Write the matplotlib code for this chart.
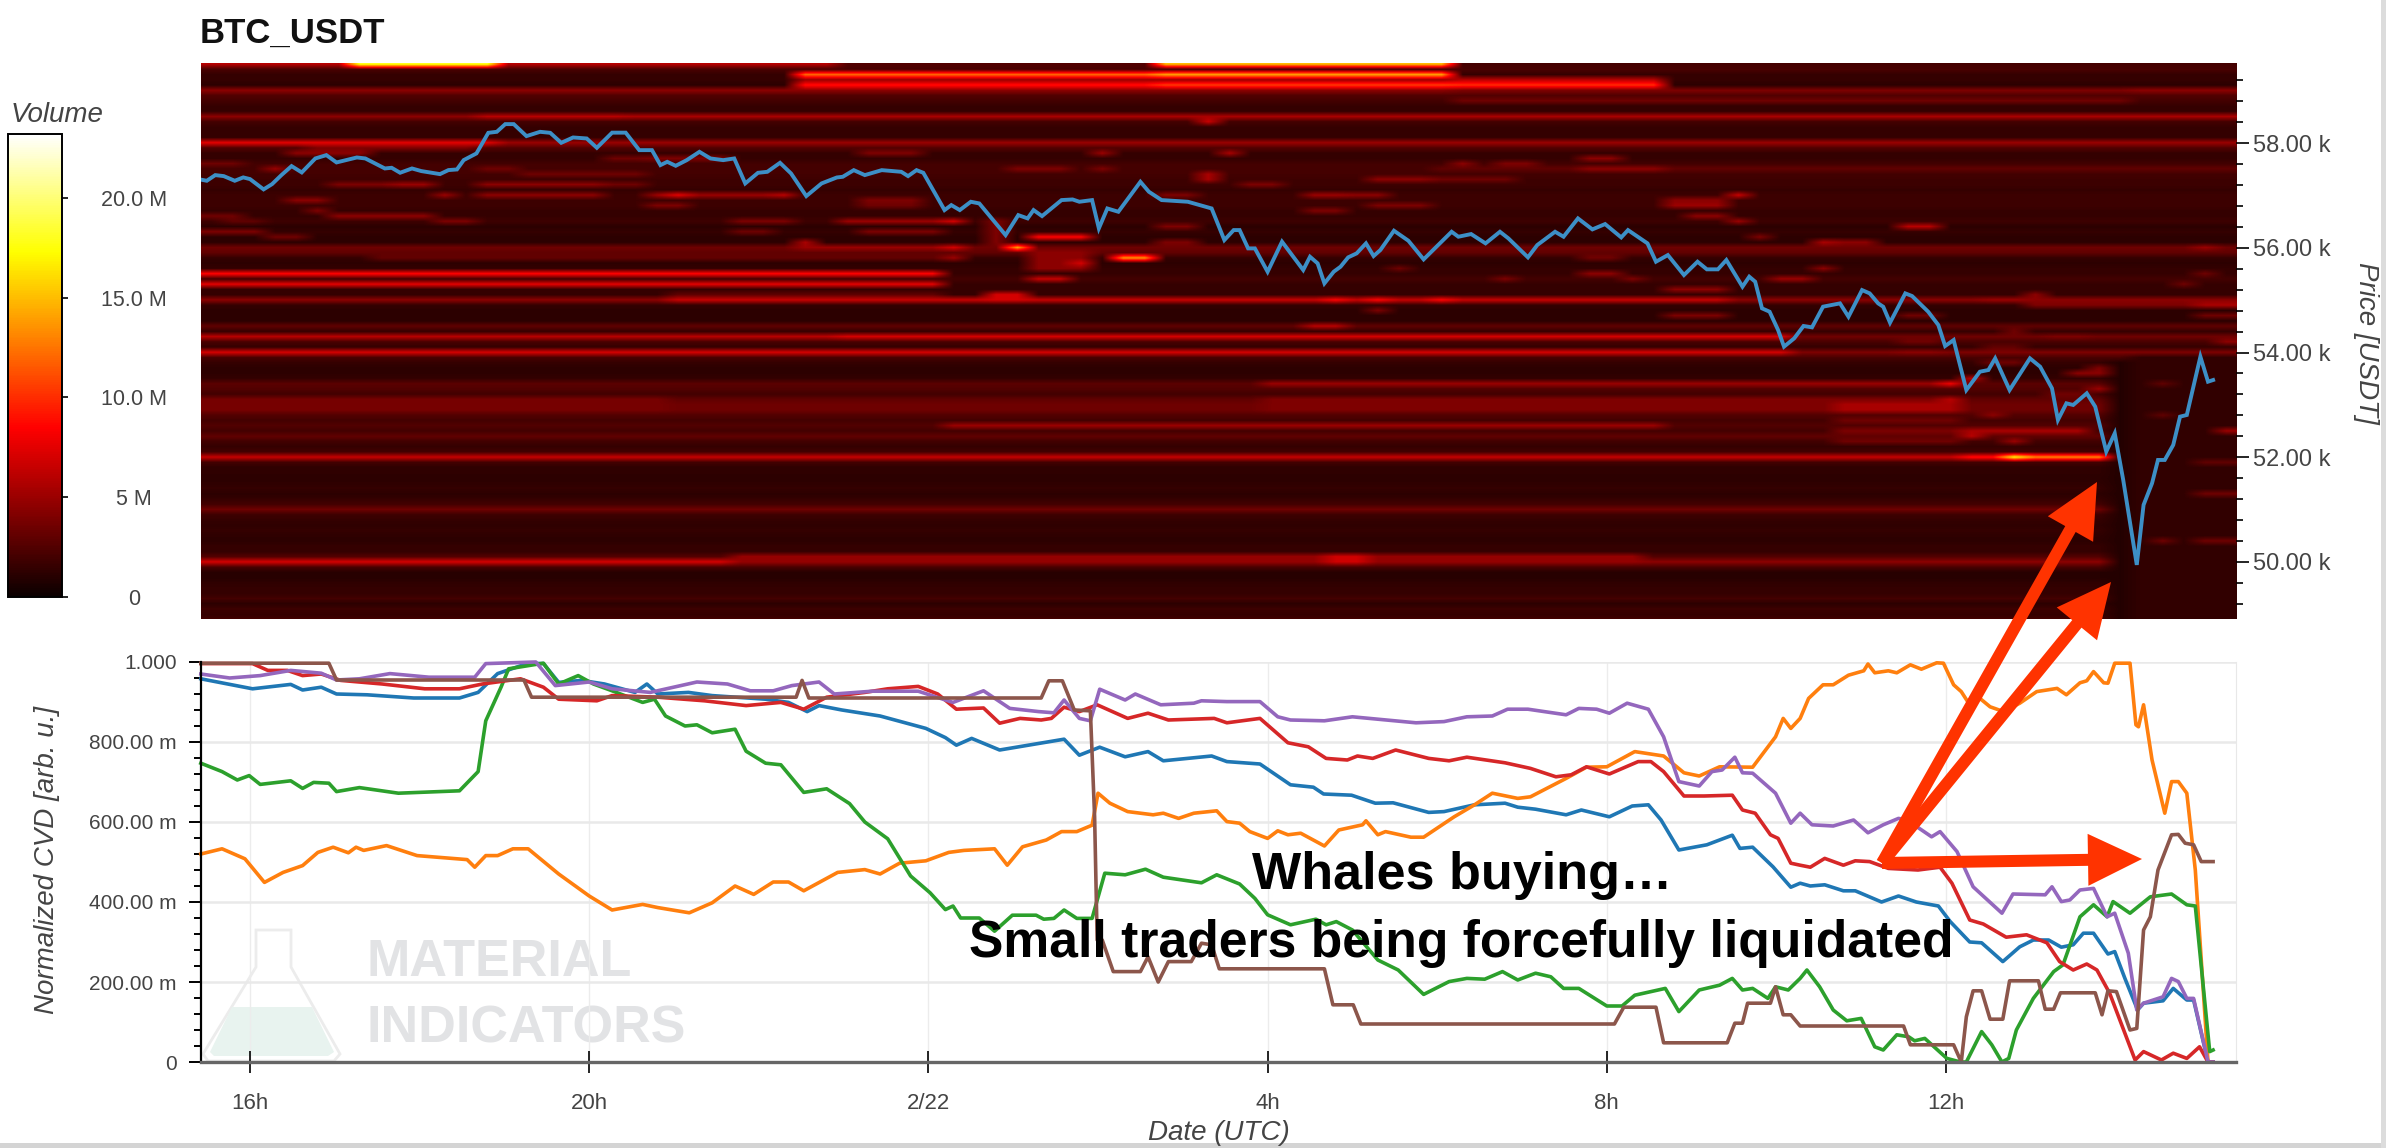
import numpy as np
import matplotlib
matplotlib.use("Agg")
import matplotlib.pyplot as plt
from matplotlib.patches import FancyArrow, Polygon, Rectangle
from matplotlib.ticker import MultipleLocator

plt.rcParams["font.family"] = ["Liberation Sans", "DejaVu Sans"]

# hours are counted from 2/21 00:00
hour_ticks = [16, 20, 24, 28, 32, 36]
hour_labels = ["16h", "20h", "2/22", "4h", "8h", "12h"]
price_ticks = [50000, 52000, 54000, 56000, 58000]
cvd_ticks = [0, 0.2, 0.4, 0.6, 0.8, 1.0]
cvd_labels = ["0", "200.00 m", "400.00 m", "600.00 m", "800.00 m", "1.000"]
volume_ticks = [0, 5, 10, 15, 20]
volume_labels = ["0", "5 M", "10.0 M", "15.0 M", "20.0 M"]

t_price = [15.41, 15.49, 15.59, 15.69, 15.82, 15.92, 16.0, 16.16, 16.26, 16.37, 16.49, 16.61, 16.77, 16.9, 17.02,
           17.26, 17.36, 17.59, 17.67, 17.77, 17.91, 18.02, 18.24, 18.34, 18.44, 18.52, 18.67, 18.81, 18.91, 19.01,
           19.11, 19.26, 19.42, 19.54, 19.67, 19.81, 19.97, 20.09, 20.27, 20.43, 20.59, 20.74, 20.84, 20.92, 21.02,
           21.15, 21.3, 21.43, 21.58, 21.71, 21.84, 21.99, 22.1, 22.25, 22.38, 22.56, 22.74, 22.92, 22.99, 23.12,
           23.25, 23.45, 23.68, 23.76, 23.86, 23.94, 24.19, 24.27, 24.37, 24.5, 24.6, 24.91, 25.06, 25.17, 25.24,
           25.34, 25.57, 25.7, 25.78, 25.93, 26.01, 26.11, 26.24, 26.5, 26.6, 26.75, 27.06, 27.34, 27.49, 27.6,
           27.67, 27.77, 27.85, 28.0, 28.17, 28.42, 28.5, 28.59, 28.67, 28.78, 28.86, 28.95, 29.05, 29.16, 29.25,
           29.33, 29.49, 29.66, 29.84, 30.17, 30.25, 30.4, 30.57, 30.74, 30.84, 31.07, 31.18, 31.39, 31.49, 31.66,
           31.83, 31.98, 32.17, 32.25, 32.48, 32.58, 32.72, 32.91, 33.07, 33.18, 33.31, 33.41, 33.6, 33.68, 33.75,
           33.83, 33.92, 34.02, 34.09, 34.21, 34.32, 34.42, 34.55, 34.75, 34.85, 35.01, 35.1, 35.2, 35.26, 35.34,
           35.52, 35.6, 35.79, 35.91, 35.99, 36.09, 36.24, 36.4, 36.5, 36.58, 36.75, 36.99, 37.11, 37.25, 37.32,
           37.42, 37.5, 37.66, 37.76, 37.89, 37.99, 38.09, 38.25, 38.33, 38.43, 38.5, 38.58, 38.68, 38.76, 38.84,
           39.0, 39.09, 39.15]
v_price = [57306, 57281, 57389, 57370, 57281, 57345, 57313, 57116, 57217, 57389, 57561, 57440, 57707, 57771, 57631,
           57726, 57707, 57516, 57529, 57434, 57516, 57466, 57408, 57485, 57497, 57676, 57803, 58197, 58216, 58363,
           58363, 58134, 58216, 58197, 58006, 58108, 58089, 57911, 58200, 58200, 57866, 57866, 57580, 57643, 57567,
           57675, 57834, 57707, 57675, 57707, 57230, 57433, 57452, 57624, 57421, 56988, 57230, 57344, 57357, 57484,
           57389, 57484, 57452, 57370, 57484, 57433, 56721, 56816, 56721, 56880, 56848, 56243, 56625, 56562, 56721,
           56606, 56912, 56924, 56880, 56912, 56371, 56752, 56689, 57261, 57071, 56912, 56880, 56752, 56148, 56339,
           56339, 55989, 55989, 55543, 56117, 55576, 55830, 55703, 55321, 55544, 55639, 55818, 55894, 56085, 55843,
           55958, 56327, 56136, 55779, 56307, 56212, 56263, 56085, 56307, 56180, 55818, 56053, 56307, 56212, 56562,
           56352, 56454, 56199, 56339, 56085, 55735, 55862, 55480, 55735, 55589, 55589, 55767, 55258, 55449, 55353,
           54844, 54780, 54430, 54112, 54271, 54507, 54481, 54876, 54939, 54684, 55193, 55130, 54939, 54875, 54570,
           55130, 55079, 54780, 54525, 54124, 54239, 53284, 53634, 53666, 53889, 53284, 53889, 53730, 53316, 52712,
           53030, 52998, 53221, 52966, 52107, 52457, 51566, 49944, 51089, 51503, 51948, 51948, 52235, 52775, 52807,
           53921, 53443, 53475]

t_blue = [15.42, 16.03, 16.48, 16.62, 16.84, 17.02, 17.38, 17.93, 18.47, 18.69, 18.92, 19.28, 19.46, 19.64, 19.91,
          20.18, 20.54, 20.68, 20.81, 21.17, 21.45, 22.08, 22.35, 22.57, 22.71, 22.98, 23.43, 23.97, 24.2, 24.33,
          24.51, 24.84, 25.6, 25.78, 26.02, 26.32, 26.59, 26.77, 27.34, 27.52, 27.91, 28.27, 28.54, 28.66, 28.99,
          29.27, 29.48, 29.9, 30.08, 30.44, 30.8, 30.95, 31.16, 31.52, 31.7, 32.03, 32.3, 32.49, 32.64, 32.85, 33.18,
          33.48, 33.57, 33.72, 33.96, 34.17, 34.28, 34.4, 34.57, 34.79, 34.93, 35.24, 35.44, 35.65, 35.91, 36.05,
          36.28, 36.42, 36.67, 36.87, 37.03, 37.21, 37.36, 37.5, 37.62, 37.74, 37.91, 37.99, 38.11, 38.26, 38.33,
          38.56, 38.68, 38.84, 38.92, 39.09, 39.15]
v_blue = [0.958, 0.933, 0.944, 0.93, 0.937, 0.92, 0.918, 0.91, 0.91, 0.924, 0.971, 0.997, 0.996, 0.949, 0.954,
          0.945, 0.924, 0.945, 0.92, 0.924, 0.916, 0.907, 0.899, 0.876, 0.891, 0.88, 0.865, 0.834, 0.811, 0.792,
          0.809, 0.78, 0.807, 0.767, 0.787, 0.763, 0.776, 0.753, 0.765, 0.751, 0.745, 0.693, 0.687, 0.67, 0.667,
          0.647, 0.648, 0.624, 0.626, 0.643, 0.647, 0.637, 0.632, 0.618, 0.63, 0.613, 0.64, 0.643, 0.605, 0.53, 0.543,
          0.567, 0.534, 0.537, 0.488, 0.437, 0.447, 0.44, 0.443, 0.428, 0.428, 0.4, 0.415, 0.4, 0.39, 0.351,
          0.3, 0.298, 0.251, 0.288, 0.305, 0.305, 0.287, 0.293, 0.322, 0.322, 0.27, 0.276, 0.209, 0.13, 0.147,
          0.153, 0.184, 0.155, 0.155, 0.0, 0.0]

t_red = [15.42, 16.03, 16.21, 16.44, 16.62, 16.84, 17.07, 17.56, 18.06, 18.47, 18.74, 19.19, 19.46, 19.64, 20.09,
         20.27, 20.81, 21.36, 21.85, 22.26, 22.53, 22.8, 23.25, 23.52, 23.88, 24.11, 24.33, 24.65, 24.84, 25.08,
         25.33, 25.45, 25.6, 25.78, 25.99, 26.35, 26.59, 26.83, 27.37, 27.52, 27.91, 28.24, 28.48, 28.69, 28.94,
         29.06, 29.24, 29.51, 29.9, 30.14, 30.35, 30.8, 31.1, 31.4, 31.58, 31.76, 32.03, 32.37, 32.52, 32.67, 32.91,
         33.15, 33.48, 33.6, 33.75, 33.93, 34.02, 34.17, 34.28, 34.4, 34.57, 34.79, 34.93, 35.1, 35.32, 35.67,
         35.93, 36.07, 36.28, 36.44, 36.71, 36.95, 37.19, 37.34, 37.5, 37.66, 37.78, 37.93, 38.23, 38.33, 38.54,
         38.68, 38.84, 38.99, 39.09, 39.15]
v_red = [0.996, 0.996, 0.979, 0.979, 0.966, 0.97, 0.954, 0.945, 0.933, 0.933, 0.945, 0.958, 0.937, 0.907, 0.903,
         0.916, 0.912, 0.903, 0.891, 0.899, 0.882, 0.912, 0.924, 0.933, 0.939, 0.92, 0.882, 0.885, 0.847, 0.859,
         0.855, 0.859, 0.887, 0.876, 0.893, 0.859, 0.872, 0.855, 0.859, 0.848, 0.859, 0.798, 0.788, 0.759, 0.755,
         0.765, 0.759, 0.78, 0.759, 0.753, 0.762, 0.748, 0.734, 0.713, 0.718, 0.738, 0.72, 0.751, 0.751, 0.726, 0.665,
         0.665, 0.667, 0.63, 0.622, 0.568, 0.559, 0.497, 0.492, 0.487, 0.509, 0.492, 0.503, 0.501, 0.484, 0.48,
         0.487, 0.447, 0.355, 0.345, 0.312, 0.318, 0.298, 0.251, 0.23, 0.245, 0.23, 0.172, 0.005, 0.026, 0.005,
         0.022, 0.009, 0.038, 0.0, 0.0]

t_purple = [15.42, 15.76, 16.12, 16.48, 16.84, 17.02, 17.29, 17.65, 18.11, 18.65, 18.78, 19.37, 19.6, 20.0, 20.27,
            20.72, 21.27, 21.63, 21.9, 22.17, 22.39, 22.71, 22.89, 23.34, 23.88, 24.29, 24.65, 24.96, 25.3, 25.48,
            25.6, 25.78, 25.91, 26.02, 26.32, 26.44, 26.74, 27.13, 27.22, 27.52, 27.91, 28.12, 28.27, 28.67, 29.0,
            29.75, 30.08, 30.35, 30.65, 30.83, 31.07, 31.52, 31.67, 31.88, 32.03, 32.24, 32.49, 32.67, 32.85, 33.09,
            33.24, 33.36, 33.51, 33.6, 33.72, 33.99, 34.17, 34.28, 34.42, 34.67, 34.91, 35.08, 35.26, 35.44, 35.54,
            35.83, 35.93, 36.13, 36.32, 36.66, 36.79, 37.17, 37.25, 37.36, 37.46, 37.58, 37.74, 37.9, 37.99, 38.15,
            38.25, 38.33, 38.56, 38.66, 38.74, 38.84, 38.92, 39.09, 39.15]
v_purple = [0.97, 0.96, 0.966, 0.979, 0.972, 0.955, 0.958, 0.971, 0.962, 0.962, 0.996, 1.0, 0.941, 0.95, 0.933,
            0.924, 0.95, 0.945, 0.928, 0.928, 0.941, 0.95, 0.92, 0.927, 0.927, 0.899, 0.928, 0.884, 0.876, 0.873,
            0.905, 0.859, 0.853, 0.932, 0.905, 0.92, 0.893, 0.897, 0.903, 0.901, 0.901, 0.863, 0.855, 0.853, 0.863,
            0.848, 0.851, 0.863, 0.865, 0.882, 0.882, 0.868, 0.884, 0.882, 0.872, 0.897, 0.882, 0.813, 0.701, 0.69,
            0.726, 0.73, 0.762, 0.723, 0.722, 0.672, 0.597, 0.622, 0.593, 0.59, 0.605, 0.573, 0.593, 0.609, 0.605,
            0.563, 0.576, 0.526, 0.438, 0.372, 0.42, 0.418, 0.438, 0.401, 0.405, 0.43, 0.434, 0.363, 0.372, 0.272,
            0.13, 0.147, 0.163, 0.209, 0.201, 0.159, 0.159, 0.0, 0.0]

t_green = [15.42, 15.67, 15.85, 15.99, 16.12, 16.48, 16.62, 16.75, 16.93, 17.02, 17.29, 17.75, 18.47, 18.69, 18.78,
           18.96, 19.05, 19.46, 19.64, 19.87, 20.05, 20.27, 20.63, 20.77, 20.9, 21.13, 21.27, 21.45, 21.72, 21.85,
           22.08, 22.26, 22.53, 22.8, 23.07, 23.25, 23.52, 23.79, 24.02, 24.2, 24.29, 24.38, 24.6, 24.78, 24.99,
           25.27, 25.36, 25.48, 25.6, 25.75, 25.93, 26.08, 26.32, 26.56, 26.77, 27.22, 27.4, 27.67, 27.85, 28.0,
           28.27, 28.57, 28.69, 28.81, 29.0, 29.3, 29.54, 29.84, 30.14, 30.35, 30.56, 30.77, 30.95, 31.16, 31.34,
           31.49, 31.67, 32.0, 32.18, 32.33, 32.69, 32.85, 33.09, 33.33, 33.48, 33.6, 33.72, 33.9, 33.99, 34.14,
           34.28, 34.36, 34.51, 34.67, 34.83, 35.0, 35.16, 35.26, 35.42, 35.56, 35.63, 35.75, 36.01, 36.17, 36.24,
           36.42, 36.54, 36.66, 36.74, 36.83, 37.03, 37.27, 37.38, 37.58, 37.74, 37.9, 37.97, 38.17, 38.41, 38.66,
           38.84, 38.94, 39.11, 39.15]
v_green = [0.747, 0.726, 0.705, 0.716, 0.694, 0.703, 0.684, 0.699, 0.697, 0.676, 0.686, 0.672, 0.678, 0.726, 0.853,
           0.937, 0.983, 0.997, 0.945, 0.966, 0.945, 0.928, 0.899, 0.907, 0.865, 0.84, 0.843, 0.823, 0.832, 0.777,
           0.747, 0.743, 0.674, 0.683, 0.646, 0.6, 0.558, 0.465, 0.423, 0.381, 0.39, 0.36, 0.36, 0.327, 0.367,
           0.367, 0.357, 0.359, 0.38, 0.359, 0.359, 0.472, 0.468, 0.482, 0.462, 0.448, 0.468, 0.445, 0.409, 0.368,
           0.343, 0.357, 0.343, 0.351, 0.33, 0.255, 0.23, 0.169, 0.201, 0.209, 0.207, 0.226, 0.205, 0.222, 0.213,
           0.184, 0.184, 0.14, 0.14, 0.167, 0.184, 0.126, 0.18, 0.192, 0.209, 0.18, 0.184, 0.159, 0.188, 0.18,
           0.209, 0.23, 0.188, 0.13, 0.103, 0.109, 0.038, 0.03, 0.068, 0.063, 0.053, 0.059, 0.009, 0.0, 0.0,
           0.076, 0.043, 0.0, 0.009, 0.08, 0.159, 0.226, 0.243, 0.363, 0.393, 0.363, 0.401, 0.372, 0.413, 0.42,
           0.393, 0.39, 0.026, 0.03]

t_orange = [15.42, 15.67, 15.94, 16.17, 16.39, 16.62, 16.8, 16.98, 17.16, 17.25, 17.34, 17.61, 17.97, 18.56, 18.65,
            18.78, 18.92, 19.1, 19.28, 19.64, 20.0, 20.27, 20.63, 20.81, 21.18, 21.45, 21.72, 21.94, 22.17, 22.35,
            22.53, 22.93, 23.25, 23.43, 23.66, 23.97, 24.24, 24.42, 24.78, 24.93, 25.11, 25.39, 25.57, 25.75, 25.93,
            26.0, 26.14, 26.35, 26.65, 26.77, 26.95, 27.13, 27.4, 27.52, 27.67, 27.79, 28.0, 28.12, 28.24, 28.39,
            28.67, 28.84, 29.12, 29.16, 29.3, 29.39, 29.69, 29.84, 30.2, 30.44, 30.65, 30.95, 31.1, 31.52, 31.76,
            32.0, 32.33, 32.67, 32.91, 33.09, 33.33, 33.72, 33.99, 34.08, 34.17, 34.28, 34.38, 34.55, 34.67, 34.85,
            35.03, 35.08, 35.16, 35.32, 35.42, 35.58, 35.71, 35.89, 35.97, 36.09, 36.18, 36.28, 36.4, 36.52, 36.68,
            36.87, 37.07, 37.31, 37.42, 37.58, 37.66, 37.74, 37.86, 37.91, 37.99, 38.17, 38.24, 38.27, 38.33, 38.43,
            38.58, 38.66, 38.74, 38.84, 38.94, 39.09, 39.13]
v_orange = [0.52, 0.533, 0.508, 0.449, 0.474, 0.491, 0.524, 0.537, 0.523, 0.537, 0.529, 0.541, 0.516, 0.506, 0.487,
            0.516, 0.516, 0.533, 0.533, 0.47, 0.415, 0.38, 0.394, 0.386, 0.373, 0.398, 0.44, 0.419, 0.45, 0.45,
            0.428, 0.474, 0.481, 0.47, 0.497, 0.503, 0.524, 0.529, 0.533, 0.492, 0.538, 0.555, 0.576, 0.576, 0.592,
            0.672, 0.647, 0.626, 0.618, 0.622, 0.609, 0.622, 0.628, 0.601, 0.597, 0.576, 0.559, 0.578, 0.568, 0.572,
            0.54, 0.58, 0.593, 0.603, 0.568, 0.576, 0.562, 0.562, 0.613, 0.643, 0.672, 0.659, 0.663, 0.709, 0.737,
            0.738, 0.776, 0.765, 0.723, 0.715, 0.738, 0.737, 0.813, 0.859, 0.834, 0.859, 0.909, 0.943, 0.943, 0.967,
            0.978, 0.995, 0.973, 0.978, 0.973, 0.993, 0.982, 0.998, 0.997, 0.943, 0.926, 0.893, 0.909, 0.888, 0.876,
            0.897, 0.926, 0.934, 0.918, 0.948, 0.953, 0.976, 0.948, 0.947, 0.997, 0.997, 0.843, 0.838, 0.893, 0.755,
            0.622, 0.701, 0.701, 0.672, 0.48, 0.0, 0.0]

t_brown = [15.42, 16.93, 17.02, 19.23, 19.32, 22.44, 22.51, 22.59, 25.33, 25.42, 25.58, 25.72, 25.91, 25.96, 25.99,
           26.05, 26.18, 26.5, 26.59, 26.71, 26.83, 27.1, 27.22, 27.34, 27.43, 28.67, 28.77, 29.01, 29.1, 32.09,
           32.2, 32.58, 32.67, 33.42, 33.51, 33.6, 33.66, 33.93, 33.99, 34.08, 34.17, 34.28, 35.5, 35.58, 36.09,
           36.18, 36.24, 36.32, 36.42, 36.52, 36.67, 36.75, 37.09, 37.17, 37.27, 37.35, 37.76, 37.84, 37.91, 38.01,
           38.17, 38.25, 38.33, 38.41, 38.5, 38.66, 38.74, 38.82, 38.92, 39.01, 39.15]
v_brown = [0.997, 0.997, 0.955, 0.955, 0.912, 0.912, 0.954, 0.91, 0.91, 0.953, 0.953, 0.88, 0.878, 0.613, 0.305,
           0.305, 0.226, 0.226, 0.263, 0.2, 0.251, 0.251, 0.297, 0.293, 0.233, 0.233, 0.143, 0.143, 0.095, 0.095,
           0.137, 0.137, 0.048, 0.048, 0.097, 0.097, 0.147, 0.147, 0.188, 0.118, 0.118, 0.09, 0.09, 0.043, 0.043,
           0.0, 0.113, 0.178, 0.178, 0.107, 0.107, 0.203, 0.203, 0.132, 0.132, 0.173, 0.173, 0.118, 0.178, 0.176,
           0.08, 0.084, 0.33, 0.363, 0.48, 0.568, 0.569, 0.547, 0.543, 0.501, 0.501]

# volume (M) per 100 USDT price row, top row 59500 down to 48900
row_base = [6, 2.2, 1.5, 1.5, 1.2, 4.5,
            2.5, 2, 1.5, 1.5, 4.5, 2, 1.5, 1.5, 1.5, 5,
            2.5, 1.5, 1.5, 2, 2, 2, 1.8, 1.8, 1.5, 1.8,
            1.8, 1.8, 1.5, 1.5, 1.8, 1.2, 1.5, 1.2, 1.2, 3.5,
            3, 1.5, 1.2, 1.5, 1.5, 2, 1.5, 1.5, 1.5, 4.5,
            1.5, 1.2, 1.2, 1.2, 3, 1.5, 3.5, 2.2, 1.5, 4,
            2.2, 1.5, 1.2, 1.2, 1.5, 2.8, 2.5, 2, 3, 3.5,
            3.5, 2.5, 2, 2.5, 2, 3, 2, 1.5, 2, 3,
            2, 1.3, 1.3, 1.2, 1.3, 1.5, 1.2, 1.5, 2, 3.5,
            1.8, 1.5, 1.3, 1.5, 1.3, 1.2, 1.5, 1.5, 2.5, 4,
            2.2, 1, 1, 1.3, 1.5, 1.5, 2, 1.2, 1.8, 1.5,
            2]

# price_low, price_high, hour_from, hour_to, volume (M); later entries overwrite earlier ones
heat_bands = [
    # long lines
    (59500, 59500, 17.1, 18.9, 18), (59500, 59500, 22.9, 26.75, 2.5), (59500, 59500, 26.75, 30.07, 15),
    (59500, 59500, 30.07, 39.5, 2), (59300, 59300, 22.4, 26.75, 12), (59300, 59300, 26.75, 30.07, 14),
    (59100, 59100, 22.4, 26.75, 9), (59200, 59200, 22.4, 30.07, 5), (59100, 59100, 26.75, 30.07, 10.5),
    (59100, 59100, 30.07, 32.73, 10), (59200, 59200, 30.07, 32.73, 6),
    (59000, 59000, 30.07, 38.1, 4), (58800, 58800, 30.2, 38.1, 3.5), (58500, 58500, 18.75, 39.5, 5.5),
    (58500, 58500, 18.74, 20.45, 6), (58400, 58400, 27.2, 27.4, 6.5),
    (58000, 58000, 15.4, 18.8, 7.5), (58000, 58000, 18.8, 39.5, 5), (57500, 57500, 30, 39.5, 3),
    (55500, 55500, 15.4, 24.1, 8.5), (55300, 55300, 15.4, 24.1, 7.5), (55000, 55000, 20.9, 33.5, 6.5),
    (54300, 54300, 15.4, 22.85, 6), (54300, 54300, 22.85, 34.05, 7), (54000, 54000, 15.4, 34.1, 7),
    (53400, 53400, 27.9, 36, 5), (52900, 53100, 15.4, 20.9, 3.8), (52900, 53100, 27.9, 36.2, 4),
    (52600, 52600, 24.1, 32.56, 5), (52000, 52000, 15.4, 36.1, 6.5), (52000, 52000, 36.1, 36.58, 9),
    (52000, 52000, 36.58, 36.91, 17), (52000, 52000, 36.91, 38.0, 13), (52000, 52000, 38.0, 39.5, 2.5),
    (50000, 50000, 15.4, 21.6, 7), (50000, 50100, 21.6, 32.38, 4.8), (50000, 50000, 32.38, 38.1, 4.5),
    (50000, 50100, 28.6, 29.08, 6.8),
    # patches, left part
    (57600, 57600, 15.6, 15.9, 3.5), (57500, 57500, 16.24, 16.4, 5), (57800, 57800, 16.43, 17.3, 4.5),
    (57900, 57900, 16.6, 18.65, 4), (57600, 57600, 15.5, 16, 3.5), (57700, 57700, 20.7, 21.6, 4),
    (57800, 57800, 23.07, 23.9, 4), (57500, 57500, 24.87, 25.7, 4), (56300, 56300, 15.4, 16.1, 4),
    (56200, 56200, 16.1, 16.6, 3.5), (55800, 55800, 17.3, 24.1, 3), (55100, 55100, 20.9, 24.1, 3),
    (56900, 56900, 16.4, 16.9, 4.5), (57200, 57200, 16.92, 17.57, 4), (57200, 57200, 17.57, 18.08, 5),
    (56600, 56600, 16.92, 18.08, 4.5), (56700, 56700, 16.6, 16.9, 4), (57000, 57000, 18.08, 18.44, 5),
    (56500, 56500, 18.08, 18.55, 4), (57000, 57000, 18.6, 18.75, 6.5), (57200, 57200, 18.77, 20.13, 4.5),
    (57000, 57000, 18.77, 20.13, 4.5), (57400, 57400, 19.26, 20.13, 3.5), (57500, 57500, 18.75, 19.22, 3.5),
    (56600, 56600, 15.41, 15.8, 3.5), (56500, 56500, 15.6, 16.1, 3), (57700, 57700, 20.1, 20.74, 3.5),
    (57400, 57400, 20.1, 20.74, 3.5), (57200, 57200, 20.1, 20.74, 3.5),
    (57000, 57000, 20.74, 22.53, 5), (57000, 57000, 20.92, 21.1, 7.5), (57000, 57000, 22.25, 22.53, 6),
    (56800, 56800, 20.75, 21.23, 4), (56500, 56500, 21.76, 22.4, 4), (56500, 56500, 22.94, 24.07, 5),
    (56300, 56300, 21.76, 22.1, 3.5), (56300, 56300, 23.1, 24.07, 4), (56900, 56900, 23.1, 23.9, 4),
    (56800, 56800, 23.1, 23.9, 3.5), (56100, 56100, 22.43, 22.74, 5.5), (56000, 56000, 22.3, 24.07, 5),
    (56500, 56500, 24.1, 24.43, 7), (56000, 56000, 24.1, 24.43, 7), (55800, 55800, 24.1, 24.43, 5),
    (56100, 56500, 24.58, 24.9, 4), (57800, 57800, 25.93, 26.26, 5), (57500, 57500, 25.93, 26.26, 4),
    (57300, 57400, 27.08, 27.39, 5.5), (57800, 57800, 27.44, 27.55, 5.5), (57400, 57400, 27.6, 27.75, 6),
    (57000, 57000, 26.6, 27.06, 4), (56400, 56400, 26.6, 27.06, 4), (56100, 56100, 26.6, 27.06, 4),
    (56000, 56000, 27.08, 27.39, 3.5), (55600, 55900, 25.1, 25.9, 4.5), (56200, 56200, 25.08, 25.9, 8.5),
    (56000, 56000, 24.9, 25.08, 14), (55800, 55800, 26.24, 26.58, 13.5), (55400, 55400, 25.08, 25.65, 6.5),
    (55700, 55700, 25.75, 25.9, 7), (55000, 55100, 24.75, 25.1, 7),
    # patches, right part
    (55000, 55000, 28.6, 28.9, 8.5), (55000, 55000, 29.08, 29.4, 8.5), (55000, 55000, 29.9, 30.07, 8.5),
    (55000, 55000, 33.41, 33.5, 11), (56700, 56700, 28.42, 28.9, 4), (56800, 56800, 29.1, 29.9, 4),
    (57600, 57600, 30.1, 30.4, 4.5), (57600, 57600, 30.6, 31.1, 4), (57700, 57700, 31.6, 32.06, 4.5),
    (57500, 57500, 31.6, 32.55, 4.5), (57300, 57300, 29.07, 29.9, 4.5), (57000, 57000, 28.3, 28.9, 5),
    (57000, 57000, 29.0, 29.4, 4.5), (57200, 57200, 27.75, 28.2, 4), (57300, 57300, 30.0, 30.8, 3.5),
    (57000, 57000, 33.45, 33.6, 6.5), (56900, 56900, 32.7, 33.45, 4.5), (56100, 56100, 34.4, 35.2, 4.5),
    (56000, 56000, 38.8, 39.1, 5), (55000, 55000, 36.5, 37.0, 5),
    (55600, 55600, 29.4, 29.75, 3.5), (55400, 55400, 30.6, 30.9, 4), (54800, 54800, 29.1, 29.4, 4),
    (54500, 54500, 28.4, 28.55, 6), (54500, 54500, 28.75, 28.9, 6), (55200, 55200, 32.74, 33.41, 4.5),
    (54700, 54700, 32.74, 33.41, 4), (56800, 56800, 32.6, 33.4, 5), (55400, 55400, 34.04, 34.38, 5),
    (56100, 56100, 34.42, 34.75, 5.5), (55600, 55600, 34.42, 34.75, 4.5), (56500, 56500, 33.45, 33.75, 5),
    (55500, 55500, 31.6, 32.06, 4.5), (55800, 55800, 31.6, 32.06, 3.5), (55400, 55400, 32.06, 32.5, 4),
    (56600, 56600, 32.94, 33.41, 4.5), (56200, 56200, 33.75, 34.04, 4), (56400, 56400, 35.4, 35.9, 6),
    (54900, 54900, 36.9, 38.9, 4), (54700, 54700, 35.5, 35.9, 3.5),
    (54000, 54000, 35.4, 35.9, 4.5), (54300, 54300, 34.75, 35.2, 3.5), (54200, 54200, 35.4, 35.9, 3.5),
    (54900, 54900, 36.09, 36.24, 4.5), (55100, 55100, 36.9, 37.07, 4.5), (54600, 54600, 37.07, 37.25, 4),
    (54400, 54400, 36.75, 36.95, 3.5), (54300, 54300, 37.27, 37.58, 4), (54400, 54400, 37.58, 37.74, 4),
    (53900, 53900, 37.58, 37.78, 4.5), (53700, 53700, 37.74, 37.9, 4), (53300, 53300, 37.66, 37.9, 5),
    (54100, 54100, 36.4, 36.8, 3),
    (53400, 53400, 34.75, 35.93, 5), (53400, 53400, 35.93, 36.09, 8), (53500, 53500, 36.09, 36.4, 6),
    (52900, 53000, 34.75, 36.24, 5.5), (53100, 53100, 35.9, 36.09, 6), (52300, 52300, 34.75, 36.1, 3.5),
    (52500, 52500, 34.75, 36.1, 4), (52700, 52700, 34.75, 36.1, 3.5),
    (52500, 52500, 36.09, 37.74, 5.5), (52500, 52500, 37.07, 37.27, 8), (52300, 52300, 36.6, 36.9, 5),
    (52400, 52400, 36.24, 36.4, 6), (52800, 52800, 36.43, 36.6, 4.5), (54300, 54300, 36.6, 37.1, 3.5),
    (53800, 53800, 36.3, 36.8, 3.5), (53200, 53200, 37.2, 37.75, 3.5), (53600, 53600, 37.5, 37.9, 4.5),
    # dark column and the specks right of the crash
    (48900, 53900, 38.25, 39.5, 1.4), (48900, 53800, 38.0, 38.25, 0.9),
    (54900, 54900, 38.9, 39.4, 5.5), (54700, 54700, 38.9, 39.4, 3.5), (54000, 54000, 38.4, 38.7, 4),
    (54200, 54200, 39.25, 39.4, 4.5), (54300, 54300, 38.45, 38.7, 3.5), (52500, 52500, 39.25, 39.4, 5),
    (51900, 51900, 38.95, 39.4, 3), (51300, 51300, 38.9, 39.4, 3.5), (50400, 50400, 38.9, 39.4, 3.5),
    (50400, 50400, 38.5, 38.7, 3.5), (51500, 51500, 38.1, 38.25, 6), (55300, 55300, 38.75, 38.9, 3.5),
    (55500, 55500, 38.92, 39.1, 3.5), (53400, 53400, 38.4, 38.6, 3), (52800, 52800, 38.4, 38.6, 3),
]

# build the price/time grid: 100 USDT rows, 15 minute columns
price_rows = np.arange(59500, 48800, -100)
hour_edges = 15.42 + 0.25 * np.arange(97)
hour_mid = (hour_edges[:-1] + hour_edges[1:]) / 2
volume = np.tile(np.array(row_base, dtype=float)[:, None], (1, len(hour_mid)))
for p0, p1, h0, h1, v in heat_bands:
    rows = (price_rows >= p0) & (price_rows <= p1)
    cols = (hour_mid >= h0) & (hour_mid <= h1)
    volume[np.ix_(rows, cols)] = v

W, H = 2386, 1148
fig = plt.figure(figsize=(W / 100, H / 100), dpi=100, facecolor="white")


def box(x0, y0, x1, y1):
    return [x0 / W, 1 - y1 / H, (x1 - x0) / W, (y1 - y0) / H]


# background layer, watermark and screenshot edges
bg = fig.add_axes([0, 0, 1, 1], zorder=0)
bg.set_xlim(0, W)
bg.set_ylim(H, 0)
bg.axis("off")
bg.add_patch(Rectangle((0, 1143), W, 5, color="#d4d4d4", lw=0))
bg.add_patch(Rectangle((2381, 0), 5, H, color="#dcdcdc", lw=0))
bg.add_patch(Polygon([(256, 930), (291, 930), (291, 967), (340, 1054), (334, 1061), (208, 1061), (203, 1054), (256, 967)],
                     fc="white", ec="#ececec", lw=2))
bg.add_patch(Polygon([(232, 1007), (312, 1007), (334, 1052), (328, 1056), (214, 1056), (210, 1052)], fc="#e8f3ef", ec="none"))
for wm, wy in [("MATERIAL", 962), ("INDICATORS", 1029)]:
    bg.text(367, wy, wm, fontsize=37.5, fontweight="bold", color="#e2e3e5", va="center", ha="left")

# heatmap panel
ax1 = fig.add_axes(box(200.5, 62.5, 2236, 619), zorder=2)
im = ax1.imshow(volume, cmap="hot", vmin=0, vmax=23.2, aspect="auto", interpolation="bilinear",
                extent=[hour_edges[0], hour_edges[-1], price_rows[-1] - 50, price_rows[0] + 50])
ax1.plot(t_price, v_price, color="#3d8fc6", lw=2.8, solid_joinstyle="miter")
ax1.set_xlim(15.416, 39.42)
ax1.set_ylim(48910, 59540)
ax1.set_xticks([])
ax1.yaxis.tick_right()
ax1.set_yticks(price_ticks)
ax1.set_yticklabels([f"{p / 1000:.2f} k" for p in price_ticks])
ax1.yaxis.set_minor_locator(MultipleLocator(400))
ax1.tick_params(axis="y", which="major", length=9, width=1.2, labelsize=17, labelcolor="#444444", pad=3)
ax1.tick_params(axis="y", which="minor", length=5, width=1.2)
for s in ax1.spines.values():
    s.set_visible(False)

# CVD panel
ax2 = fig.add_axes(box(200.5, 662, 2236, 1062), zorder=1, facecolor="none")
ax2.set_axisbelow(True)
ax2.grid(axis="y", color="#e9e9e9", lw=1.8)
ax2.grid(axis="x", color="#ececec", lw=1)
series = [(t_blue, v_blue, "#1f77b4"), (t_orange, v_orange, "#ff7f0e"), (t_green, v_green, "#2ca02c"),
          (t_red, v_red, "#d62728"), (t_purple, v_purple, "#9467bd"), (t_brown, v_brown, "#8c564b")]
for tx, vy, col in series:
    ax2.plot(tx, vy, color=col, lw=2.6, clip_on=False, solid_joinstyle="round")
ax2.set_xlim(15.416, 39.42)
ax2.set_ylim(0, 1)
ax2.set_xticks(hour_ticks)
ax2.set_xticklabels(hour_labels)
ax2.set_yticks(cvd_ticks)
ax2.set_yticklabels(cvd_labels)
ax2.yaxis.set_minor_locator(MultipleLocator(0.04))
ax2.tick_params(axis="both", which="major", labelcolor="#444444")
ax2.tick_params(axis="y", which="major", length=9, width=1.4, pad=8, labelsize=15)
ax2.tick_params(axis="y", which="minor", length=5, width=1.4)
ax2.tick_params(axis="x", which="major", direction="inout", length=16, width=1.2, pad=14, labelsize=16)
ax2.spines["top"].set_visible(False)
ax2.spines["right"].set_color("#e8e8e8")
ax2.spines["left"].set_linewidth(1.6)
ax2.spines["bottom"].set_color("#666666")
ax2.spines["bottom"].set_linewidth(2.4)

# colour bar
cax = fig.add_axes(box(8, 134, 62, 597), zorder=2)
cbar = fig.colorbar(im, cax=cax, ticks=volume_ticks)
cbar.outline.set_linewidth(1.4)
cax.set_yticklabels(volume_labels, ha="center")
cax.tick_params(length=4, width=1.2, labelsize=15.5, labelcolor="#444444", pad=48)

# overlay: titles, axis labels, arrows and the note
top = fig.add_axes([0, 0, 1, 1], zorder=5, facecolor="none")
top.set_xlim(0, W)
top.set_ylim(H, 0)
top.axis("off")
top.text(200, 33, "BTC_USDT", fontsize=25, fontweight="bold", color="#111111", va="center", ha="left")
top.text(57, 115, "Volume", fontsize=20, style="italic", color="#444444", va="center", ha="center")
top.text(2366, 343, "Price [USDT]", fontsize=20, style="italic", color="#444444", rotation=-90, va="center", ha="center")
top.text(47, 860, "Normalized CVD [arb. u.]", fontsize=20, style="italic", color="#444444", rotation=90, va="center", ha="center")
top.text(1219, 1133, "Date (UTC)", fontsize=20, style="italic", color="#444444", va="center", ha="center")
for tip_x, tip_y in [(2097, 482), (2111, 582), (2142, 859)]:
    top.add_patch(FancyArrow(1882, 863, tip_x - 1882, tip_y - 863, width=12, head_width=52, head_length=54,
                             length_includes_head=True, color="#ff3300", lw=0))
top.text(1462, 876, "Whales buying…", fontsize=37.5, fontweight="bold", color="black", va="center", ha="center")
top.text(1461, 943, "Small traders being forcefully liquidated", fontsize=37.2, fontweight="bold", color="black", va="center", ha="center")

fig.savefig("out.png", dpi=100)
